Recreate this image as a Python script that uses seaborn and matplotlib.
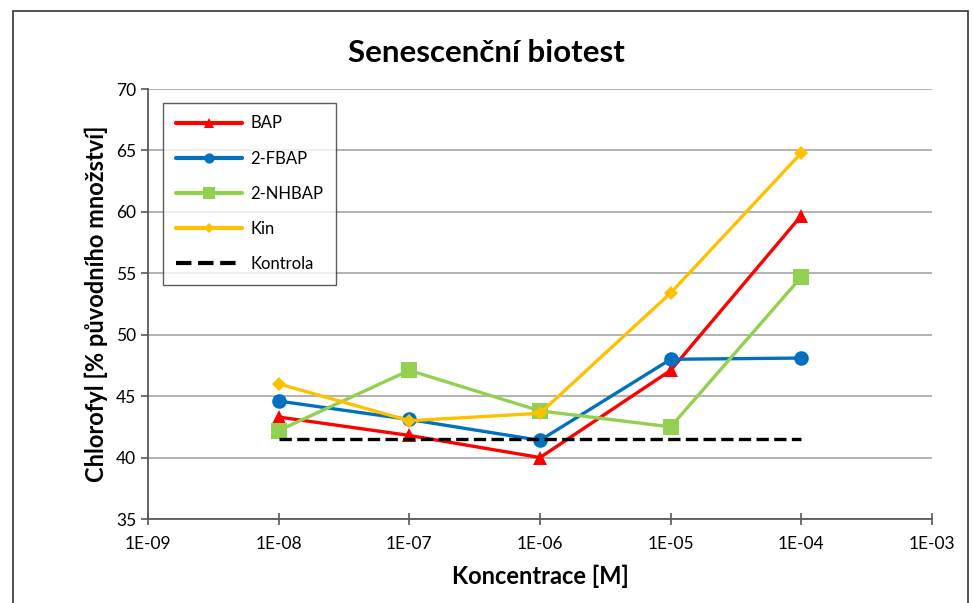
import numpy as np
import pandas as pd
import matplotlib
matplotlib.use("Agg")
import matplotlib.pyplot as plt
import seaborn as sns
from matplotlib.patches import Rectangle

conc = [1e-8, 1e-7, 1e-6, 1e-5, 1e-4]
bap = [43.3, 41.8, 40.0, 47.1, 59.7]
fbap = [44.6, 43.1, 41.4, 48.0, 48.1]
nhbap = [42.2, 47.1, 43.8, 42.5, 54.7]
kin = [46.0, 43.0, 43.6, 53.4, 64.8]
kontrola = [41.5, 41.5, 41.5, 41.5, 41.5]
series_names = ["BAP", "2-FBAP", "2-NHBAP", "Kin", "Kontrola"]
xticks = [1e-9, 1e-8, 1e-7, 1e-6, 1e-5, 1e-4, 1e-3]
xticklabels = ["1E-09", "1E-08", "1E-07", "1E-06", "1E-05", "1E-04", "1E-03"]
yticks = [35, 40, 45, 50, 55, 60, 65, 70]

sns.set_theme(style="white")
plt.rcParams['font.family'] = ['Lato', 'DejaVu Sans']
plt.rcParams['text.color'] = 'black'
plt.rcParams['axes.labelcolor'] = 'black'
plt.rcParams['xtick.color'] = 'black'
plt.rcParams['ytick.color'] = 'black'

df = pd.DataFrame({
    "conc": conc * 5,
    "value": bap + fbap + nhbap + kin + kontrola,
    "series": sum([[n] * len(conc) for n in series_names], []),
})

palette = {"BAP": "#FF0000", "2-FBAP": "#0070C0", "2-NHBAP": "#92D050",
           "Kin": "#FFC000", "Kontrola": "#000000"}
markers = {"BAP": "^", "2-FBAP": "o", "2-NHBAP": "s", "Kin": "D", "Kontrola": ""}
sizes = {"BAP": 10, "2-FBAP": 10.5, "2-NHBAP": 11.5, "Kin": 7, "Kontrola": 0}

fig = plt.figure(figsize=(9.73, 6.03), dpi=100)
fig.patches.append(Rectangle((13 / 973, -0.01), (968 - 13) / 973, 1 - 11 / 603 + 0.01,
                             transform=fig.transFigure, fill=False,
                             edgecolor="#333333", linewidth=1.2))
ax = fig.add_axes([148 / 973, 1 - 519 / 603, (932 - 148) / 973, (519 - 89) / 603])

for name in series_names:
    sub = df[df["series"] == name]
    sns.lineplot(data=sub, x="conc", y="value", ax=ax, color=palette[name],
                 marker=markers[name] if markers[name] else None,
                 markersize=sizes[name], markeredgewidth=0,
                 linewidth=2.4, linestyle="--" if name == "Kontrola" else "-",
                 dashes=False if name != "Kontrola" else (3, 3.2),
                 label=name)

ax.set_xscale("log")
ax.set_xlim(1e-9, 1e-3)
ax.set_ylim(35, 70)
ax.set_xticks(xticks)
ax.set_xticklabels(xticklabels)
ax.minorticks_off()
ax.set_yticks(yticks)
ax.yaxis.grid(True, color="#A6A6A6", linewidth=1.2)
ax.xaxis.grid(False)
for s in ["top", "right"]:
    ax.spines[s].set_visible(False)
for s in ["left", "bottom"]:
    ax.spines[s].set_color("#595959")
    ax.spines[s].set_linewidth(1.3)
ax.tick_params(axis="x", direction="inout", length=8, width=1.2, color="#595959",
               labelsize=12.5, pad=8, bottom=True)
ax.tick_params(axis="y", direction="out", length=5, width=1.2, color="#595959",
               labelsize=12.5, left=True)
ax.set_xlabel("Koncentrace [M]", fontsize=17, fontweight="bold", labelpad=9)
ax.set_ylabel("Chlorofyl [% původního množství]", fontsize=17, fontweight="bold", labelpad=6)
fig.text(0.5, 1 - 53 / 603, "Senescenční biotest", ha="center", va="center",
         fontsize=22.5, fontweight="bold")

leg = ax.legend(loc="upper left", bbox_to_anchor=((163 - 148) / 784, (519 - 103) / 430),
                borderaxespad=0,
                frameon=True, fancybox=False, edgecolor="#333333", fontsize=12,
                handlelength=4.0, labelspacing=1.15, borderpad=0.75, markerscale=0.7,
                handletextpad=0.5)
leg.get_frame().set_linewidth(1.0)
for line in leg.get_lines():
    line.set_linewidth(3.0)

fig.savefig("out.png", dpi=100)
